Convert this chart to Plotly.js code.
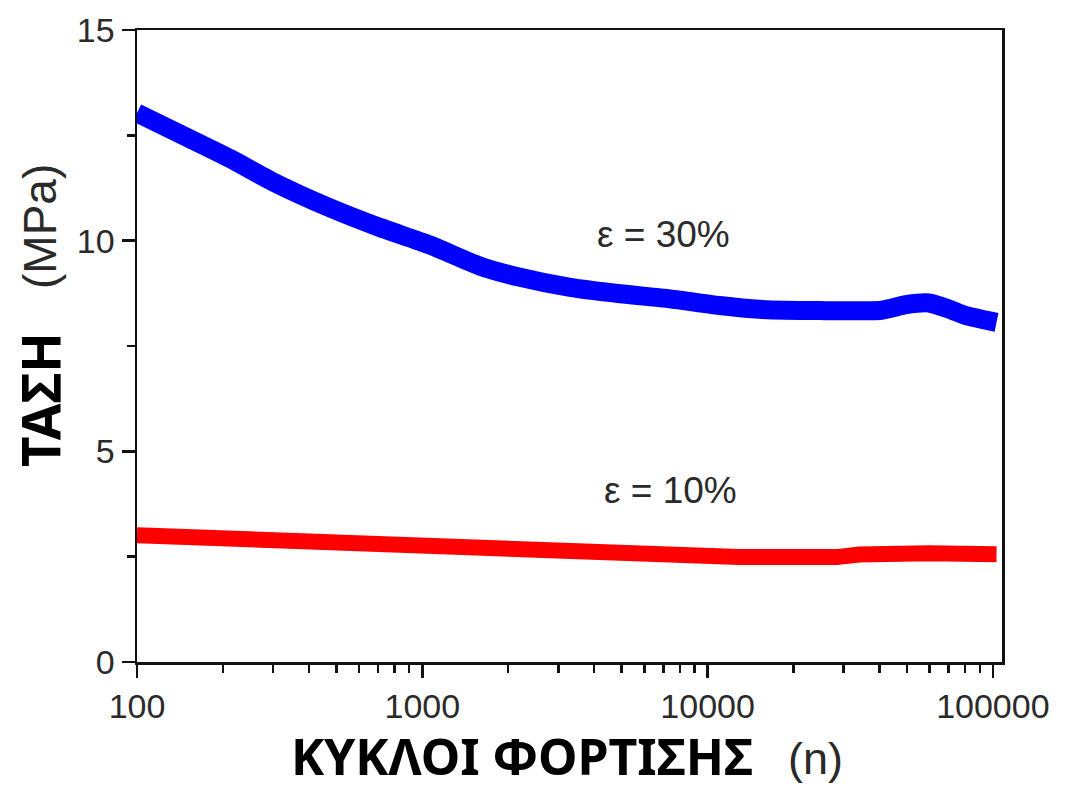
<!DOCTYPE html>
<html>
<head>
<meta charset="utf-8">
<script src="https://cdn.plot.ly/plotly-3.0.1.min.js"></script>
<style>html,body{margin:0;padding:0;background:#fff;}#chart{width:1068px;height:790px;}</style>
</head>
<body>
<div id="chart"></div>
<script>
// Cycles (n) and stress (MPa)
const cycles30 = [100, 150, 212, 299, 474, 699, 1062, 1588, 2200, 3300, 4930, 7370, 11000, 15200, 24600, 40700, 49600, 59700, 70000, 80700, 103000];
const stress30 = [13.03, 12.45, 11.95, 11.40, 10.78, 10.33, 9.90, 9.40, 9.13, 8.89, 8.74, 8.62, 8.46, 8.37, 8.34, 8.35, 8.48, 8.52, 8.38, 8.22, 8.06];

const cycles10 = [100, 276, 427, 430, 620, 1380, 3100, 6750, 12900, 28300, 34000, 59700, 103000];
const stress10 = [3.01, 2.89, 2.87, 2.83, 2.82, 2.70, 2.61, 2.51, 2.49, 2.49, 2.55, 2.58, 2.56];

const xTickVals = [100, 1000, 10000, 100000];
const xTickText = ['100', '1000', '10000', '100000'];
const yTickVals = [0, 5, 10, 15];

const label30 = 'ε = 30%';
const label10 = 'ε = 10%';
const xTitleMain = 'ΚΥΚΛΟΙ ΦΟΡΤΙΣΗΣ';
const xTitleUnit = '(n)';
const yTitleMain = 'ΤΑΣΗ';
const yTitleUnit = '(MPa)';

const minorX = [];
for (let e = 2; e < 5; e++) for (let m = 2; m <= 9; m++) minorX.push(m * Math.pow(10, e));

const tickFont = {family: 'Liberation Sans, Arial, sans-serif', size: 34, color: '#2a2a2a'};

const traces = [
  {x: cycles30, y: stress30, mode: 'lines', line: {color: '#0000ff', width: 19, shape: 'spline', smoothing: 0.6}, hoverinfo: 'x+y', showlegend: false},
  {x: cycles10, y: stress10, mode: 'lines', line: {color: '#ff0000', width: 16}, hoverinfo: 'x+y', showlegend: false}
];

const layout = {
  width: 1068, height: 790,
  margin: {l: 137, r: 66, t: 30, b: 128},
  paper_bgcolor: '#fff', plot_bgcolor: '#fff',
  showlegend: false,
  xaxis: {
    type: 'log', range: [2, 5.032], tickmode: 'array', tickvals: xTickVals, ticktext: xTickText,
    ticks: 'outside', ticklen: 13, tickwidth: 2.5, tickcolor: '#111',
    showline: true, linecolor: '#111', linewidth: 2.5, mirror: true,
    showgrid: false, zeroline: false, tickfont: tickFont,
    minor: {tickmode: 'array', tickvals: minorX, ticks: 'outside', ticklen: 8, tickwidth: 2.5, tickcolor: '#111', showgrid: false}
  },
  yaxis: {
    range: [0, 15], tickmode: 'array', tickvals: yTickVals,
    ticks: 'outside', ticklen: 13, tickwidth: 2.5, tickcolor: '#111',
    showline: true, linecolor: '#111', linewidth: 2.5, mirror: true,
    showgrid: false, zeroline: false, tickfont: tickFont,
    minor: {dtick: 2.5, ticks: 'outside', ticklen: 8, tickwidth: 2.5, tickcolor: '#111', showgrid: false}
  },
  annotations: [
    {xref: 'paper', yref: 'paper', x: (663 - 137) / 865, y: (662 - 235) / 632, text: label30, showarrow: false,
     font: {family: 'Liberation Sans, Arial, sans-serif', size: 37, color: '#2a2a2a'}, xanchor: 'center', yanchor: 'middle'},
    {xref: 'paper', yref: 'paper', x: (670 - 137) / 865, y: (662 - 490) / 632, text: label10, showarrow: false,
     font: {family: 'Liberation Sans, Arial, sans-serif', size: 37, color: '#2a2a2a'}, xanchor: 'center', yanchor: 'middle'},
    {xref: 'paper', yref: 'paper', x: (522 - 137) / 865, y: (662 - 756) / 632, text: '<b>' + xTitleMain + '</b>', showarrow: false,
     font: {family: 'Noto Sans, sans-serif', size: 50, color: '#000'}, xanchor: 'center', yanchor: 'middle'},
    {xref: 'paper', yref: 'paper', x: (815 - 137) / 865, y: (662 - 758) / 632, text: xTitleUnit, showarrow: false,
     font: {family: 'Liberation Sans, Arial, sans-serif', size: 45, color: '#2a2a2a'}, xanchor: 'center', yanchor: 'middle'},
    {xref: 'paper', yref: 'paper', x: (40 - 137) / 865, y: (662 - 400) / 632, text: '<b>' + yTitleMain + '</b>', showarrow: false, textangle: -90,
     font: {family: 'Noto Sans, sans-serif', size: 53, color: '#000'}, xanchor: 'center', yanchor: 'middle'},
    {xref: 'paper', yref: 'paper', x: (40 - 137) / 865, y: (662 - 227) / 632, text: yTitleUnit, showarrow: false, textangle: -90,
     font: {family: 'Liberation Sans, Arial, sans-serif', size: 46, color: '#2a2a2a'}, xanchor: 'center', yanchor: 'middle'}
  ]
};

Plotly.newPlot('chart', traces, layout, {staticPlot: true, displayModeBar: false});
</script>
</body>
</html>
